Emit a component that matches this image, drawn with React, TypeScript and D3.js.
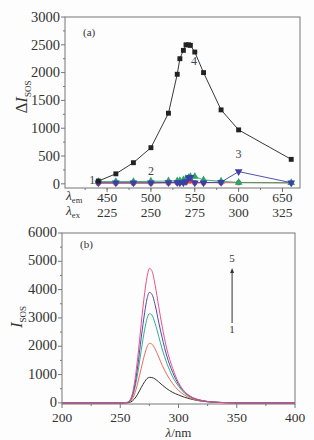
import React from 'react';
import * as d3 from 'd3';

// panel (a): emission wavelength of each measured point
const emWave = [440, 460, 480, 500, 520, 530, 533, 537, 540, 543, 545, 550, 560, 580, 600, 660];
const series1 = [10, 10, 10, 12, 15, 18, 20, 25, 30, 60, 50, 20, 20, 20, 20, 15];
const series2 = [40, 40, 40, 45, 50, 50, 55, 70, 90, 110, 130, 130, 70, 45, 25, 20];
const series3 = [20, 20, 20, 20, 25, 25, 20, 20, 40, 110, 120, 20, 20, 30, 220, 20];
const series4 = [50, 180, 380, 650, 1270, 1970, 2250, 2400, 2500, 2500, 2490, 2370, 2000, 1330, 970, 440];
const emTicks = [450, 500, 550, 600, 650];
const exTicks = [225, 250, 275, 300, 325];
const aYTicks = [0, 500, 1000, 1500, 2000, 2500, 3000];

// panel (b): spectra
const wave = [200, 250, 256, 259, 262, 265, 268, 271, 273, 275, 277, 280, 283, 286, 290, 295, 300, 305, 310, 320, 330, 340, 350, 400];
const curve1 = [0, 0, 4, 30, 130, 310, 540, 750, 860, 900, 895, 840, 740, 630, 500, 370, 280, 200, 140, 60, 22, 6, 0, 0];
const curve2 = [0, 0, 8, 60, 280, 700, 1220, 1720, 1980, 2100, 2080, 1900, 1620, 1330, 1000, 680, 440, 280, 170, 65, 24, 8, 0, 0];
const curve3 = [0, 0, 12, 100, 430, 1050, 1850, 2600, 2980, 3150, 3110, 2800, 2350, 1900, 1400, 920, 590, 350, 210, 78, 28, 10, 0, 0];
const curve4 = [0, 0, 15, 120, 520, 1300, 2300, 3200, 3680, 3900, 3850, 3450, 2850, 2300, 1650, 1080, 660, 390, 230, 82, 30, 10, 0, 0];
const curve5 = [0, 0, 20, 150, 650, 1600, 2800, 3900, 4450, 4750, 4680, 4150, 3400, 2700, 1900, 1220, 720, 410, 240, 85, 30, 10, 0, 0];
const bXTicks = [200, 250, 300, 350, 400];
const bYTicks = [0, 1000, 2000, 3000, 4000, 5000, 6000];

const serif = '"Liberation Serif", "DejaVu Serif", serif';
const axisCol = '#777';
const fs = 14.5;

const aSeries = [
  { vals: series1, color: '#e8453c', sym: d3.symbolCircle, size: 22 },
  { vals: series2, color: '#2ba36a', sym: d3.symbolTriangle, size: 26 },
  { vals: series3, color: '#3b3fa8', sym: d3.symbolTriangle, size: 26, flip: true },
  { vals: series4, color: '#222', sym: d3.symbolSquare, size: 24 },
];
const bCurves = [
  { vals: curve1, color: '#333' },
  { vals: curve2, color: '#f06a55' },
  { vals: curve3, color: '#2fae8a' },
  { vals: curve4, color: '#4b4aa8' },
  { vals: curve5, color: '#e8508a' },
];

const App = () => {
  // panel (a) frame
  const ax = d3.scaleLinear().domain([402, 670]).range([65, 300]);
  const ay = d3.scaleLinear().domain([-75, 3000]).range([188, 17]);
  // panel (b) frame
  const bx = d3.scaleLinear().domain([200, 400]).range([62, 295]);
  const by = d3.scaleLinear().domain([-40, 6000]).range([404, 233]);

  const aLine = d3.line<number>().x((_, i) => ax(emWave[i])).y(d => ay(d));
  const bLine = d3.line<number>().x((_, i) => bx(wave[i])).y(d => by(d)).curve(d3.curveMonotoneX);

  const aMinorX = d3.range(425, 670, 25);
  const aMinorY = d3.range(250, 3000, 500);
  const bMinorX = d3.range(225, 400, 50);
  const bMinorY = d3.range(500, 6000, 1000);

  return (
    <svg width={314} height={440} style={{ position: 'absolute', left: 0, top: 0, background: '#fdfdfd' }}
      fontFamily={serif}>
      {/* ---------- panel (a) ---------- */}
      <rect x={65} y={17} width={235} height={171} fill="none" stroke={axisCol} strokeWidth={1} />
      {aYTicks.map(t => (
        <g key={'ay' + t}>
          <line x1={61} x2={65} y1={ay(t)} y2={ay(t)} stroke={axisCol} />
          <text x={60} y={ay(t)} dy="0.33em" textAnchor="end" fontSize={fs} fill="#333">{t}</text>
        </g>
      ))}
      {aMinorY.map(t => <line key={'amy' + t} x1={63} x2={65} y1={ay(t)} y2={ay(t)} stroke={axisCol} />)}
      {emTicks.map((t, i) => (
        <g key={'ax' + t}>
          <line x1={ax(t)} x2={ax(t)} y1={188} y2={192} stroke={axisCol} />
          <text x={ax(t)} y={202} textAnchor="middle" fontSize={13.5} fill="#333">{t}</text>
          <text x={ax(t)} y={217} textAnchor="middle" fontSize={13.5} fill="#333">{exTicks[i]}</text>
        </g>
      ))}
      {aMinorX.map(t => <line key={'amx' + t} x1={ax(t)} x2={ax(t)} y1={188} y2={190} stroke={axisCol} />)}
      <text x={66} y={200} fontSize={13.5} fill="#333" fontStyle="italic">λ<tspan fontSize={8.5} fontStyle="normal" dy={3}>em</tspan></text>
      <text x={66} y={215} fontSize={13.5} fill="#333" fontStyle="italic">λ<tspan fontSize={8.5} fontStyle="normal" dy={3}>ex</tspan></text>
      <text transform="translate(27,97) rotate(-90)" textAnchor="middle" fontSize={17} fill="#333">
        Δ<tspan fontStyle="italic">I</tspan><tspan fontSize={9} dy={4}>SOS</tspan>
      </text>
      {aSeries.map((s, k) => (
        <g key={'as' + k}>
          <path d={aLine(s.vals) ?? ''} fill="none" stroke={s.color} strokeWidth={0.9} />
          {s.vals.map((v, i) => (
            <path key={i} d={d3.symbol().type(s.sym).size(s.size)() ?? ''} fill={s.color}
              transform={`translate(${ax(emWave[i])},${ay(v)})${s.flip ? ' rotate(180)' : ''}`} />
          ))}
        </g>
      ))}
      <text x={83} y={36} fontSize={11} fill="#333">(a)</text>
      <text x={ax(549)} y={ay(2140)} textAnchor="middle" fontSize={12} fill="#444">4</text>
      <text x={ax(600)} y={ay(470)} textAnchor="middle" fontSize={12} fill="#444">3</text>
      <text x={ax(500)} y={ay(160)} textAnchor="middle" fontSize={12} fill="#444">2</text>
      <text x={ax(433)} y={ay(0)} textAnchor="middle" fontSize={12} fill="#444">1</text>

      {/* ---------- panel (b) ---------- */}
      <rect x={62} y={233} width={233} height={171} fill="none" stroke={axisCol} strokeWidth={1} />
      {bYTicks.map(t => (
        <g key={'by' + t}>
          <line x1={58} x2={62} y1={by(t)} y2={by(t)} stroke={axisCol} />
          <text x={57} y={by(t)} dy="0.28em" textAnchor="end" fontSize={fs} fill="#333">{t}</text>
        </g>
      ))}
      {bMinorY.map(t => <line key={'bmy' + t} x1={60} x2={62} y1={by(t)} y2={by(t)} stroke={axisCol} />)}
      {bXTicks.map(t => (
        <g key={'bx' + t}>
          <line x1={bx(t)} x2={bx(t)} y1={404} y2={408} stroke={axisCol} />
          <text x={bx(t)} y={422} textAnchor="middle" fontSize={13.5} fill="#333">{t}</text>
        </g>
      ))}
      {bMinorX.map(t => <line key={'bmx' + t} x1={bx(t)} x2={bx(t)} y1={404} y2={406} stroke={axisCol} />)}
      <text x={bx(300)} y={437} textAnchor="middle" fontSize={13} fill="#333">
        <tspan fontStyle="italic">λ</tspan>/nm
      </text>
      <text transform="translate(22,317) rotate(-90)" textAnchor="middle" fontSize={17} fill="#333">
        <tspan fontStyle="italic">I</tspan><tspan fontSize={9} dy={4}>SOS</tspan>
      </text>
      {bCurves.map((c, k) => (
        <path key={'bc' + k} d={bLine(c.vals) ?? ''} fill="none" stroke={c.color} strokeWidth={1} />
      ))}
      <text x={80} y={248} fontSize={11} fill="#333">(b)</text>
      <line x1={bx(346)} x2={bx(346)} y1={323} y2={271} stroke="#333" strokeWidth={1} />
      <path d="M0,0 L-2,5 L2,5 Z" fill="#333" transform={`translate(${bx(346)},268)`} />
      <text x={bx(346)} y={262} textAnchor="middle" fontSize={11} fill="#333">5</text>
      <text x={bx(346)} y={333} textAnchor="middle" fontSize={11} fill="#333">1</text>
    </svg>
  );
};

export default App;
